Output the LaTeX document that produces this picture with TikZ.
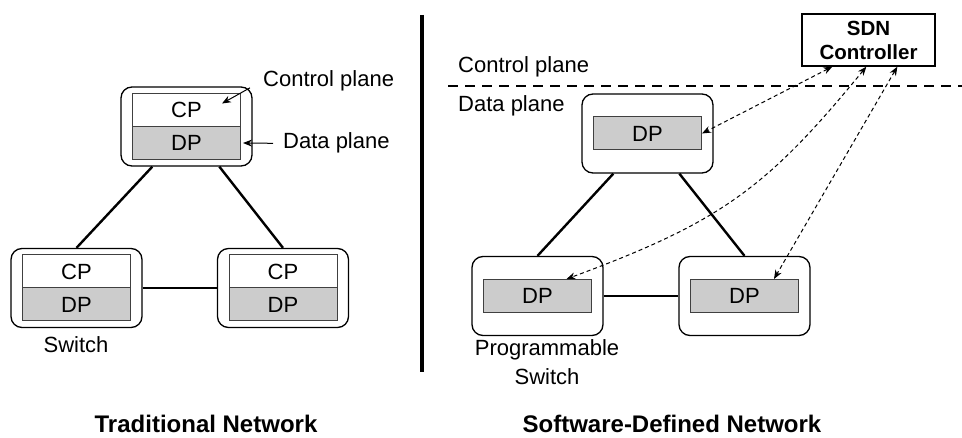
\documentclass[tikz,border=0pt]{standalone}
\usepackage{fontspec}
\setmainfont{Liberation Sans}
\usetikzlibrary{arrows.meta}

\begin{document}
\begin{tikzpicture}[x=1pt, y=-1pt,
		every node/.style = {font=\fontsize{22}{29}\selectfont},
		switchbox/.style = {shape=rectangle, rounded corners=11pt, draw,
			line width=1.3pt, minimum width=131pt, minimum height=79pt},
		cpbox/.style = {shape=rectangle, draw=black!75, line width=1pt,
			fill=white, inner sep=0pt, minimum width=108pt, minimum height=33pt},
		dpbox/.style = {cpbox, fill=black!20},
		link/.style = {line width=2.4pt},
		tip/.style = {-{Stealth[length=9pt,width=7pt]}, line width=1pt},
		ctl/.style = {{Stealth[length=9pt,width=7pt]}-{Stealth[length=9pt,width=7pt]},
			line width=1pt, dash pattern=on 4pt off 3pt},
		lbl/.style = {inner sep=0pt, anchor=base west},
		title/.style = {inner sep=0pt, anchor=base, font=\fontsize{24}{29}\selectfont\bfseries}]
		\useasboundingbox (0,0) rectangle (962,438);

		% traditional network
		\node[switchbox] (ts) at (186.5,126.5) {};
		\node[cpbox] (tcp) at ([yshift=16.5pt]ts.center) {CP};
		\node[dpbox] (tdp) at ([yshift=-16.5pt]ts.center) {DP};
		\node[switchbox] (ls) at (76.5,288) {};
		\node[cpbox] (lcp) at ([yshift=16.5pt]ls.center) {CP};
		\node[dpbox] (ldp) at ([yshift=-16.5pt]ls.center) {DP};
		\node[switchbox] (rs) at (283,288) {};
		\node[cpbox] (rcp) at ([yshift=16.5pt]rs.center) {CP};
		\node[dpbox] (rdp) at ([yshift=-16.5pt]rs.center) {DP};
		\draw[link] ([xshift=32pt]ts.south west) -- (ls.north);
		\draw[link] ([xshift=99pt]ts.south west) -- (rs.north);
		\draw[link] (ls) -- (rs);

		\node[lbl] (cplab) at (263,87) {Control plane};
		\node[lbl] (dplab) at (283,149) {Data plane};
		\draw[tip] ([shift={(-13pt,-6.5pt)}]cplab.west) -- ([shift={(-19pt,6.5pt)}]tcp.east);
		\draw[tip] ([xshift=-10pt]dplab.west) -- ([xshift=2pt]tdp.east);
		\node[lbl, anchor=base] (swlab) at (76,353) {Switch};
		\node[title] (tradt) at (206,433) {Traditional Network};

		\draw[line width=3.5pt] (422,15) -- (422,372);

		% software-defined network
		\draw[line width=2pt, dash pattern=on 10pt off 7pt] (448,86) -- (962,86);
		\node[lbl] (cplab2) at (458,73) {Control plane};
		\node[lbl] (dplab2) at (458,112) {Data plane};

		\node[draw, line width=1.3pt, inner sep=0pt, align=center,
			minimum width=133pt, minimum height=52pt,
			font=\fontsize{20.5}{24}\selectfont\bfseries] (ctrl) at (868.5,40) {SDN\\Controller};

		\node[switchbox] (ps) at (647.5,133.5) {};
		\node[dpbox] (psdp) at (ps.center) {DP};
		\node[switchbox] (pl) at (537.5,296) {};
		\node[dpbox] (pldp) at (pl.center) {DP};
		\node[switchbox] (pr) at (744.5,296) {};
		\node[dpbox] (prdp) at (pr.center) {DP};
		\draw[link] ([xshift=32pt]ps.south west) -- (pl.north);
		\draw[link] ([xshift=98pt]ps.south west) -- (pr.north);
		\draw[link] (pl) -- (pr);

		\draw[ctl] ([xshift=31pt]ctrl.south west) -- (psdp.east);
		\draw[ctl] ([xshift=65pt]ctrl.south west) .. controls (767,188) and (721,222) .. ([xshift=29pt]pldp.north);
		\draw[ctl] ([xshift=96pt]ctrl.south west) -- ([xshift=29.5pt]prdp.north);

		\node[align=center] (plab) at (547,362) {Programmable\\Switch};
		\node[title] (sdnt) at (672,433) {Software-Defined Network};
	\end{tikzpicture}
\end{document}
